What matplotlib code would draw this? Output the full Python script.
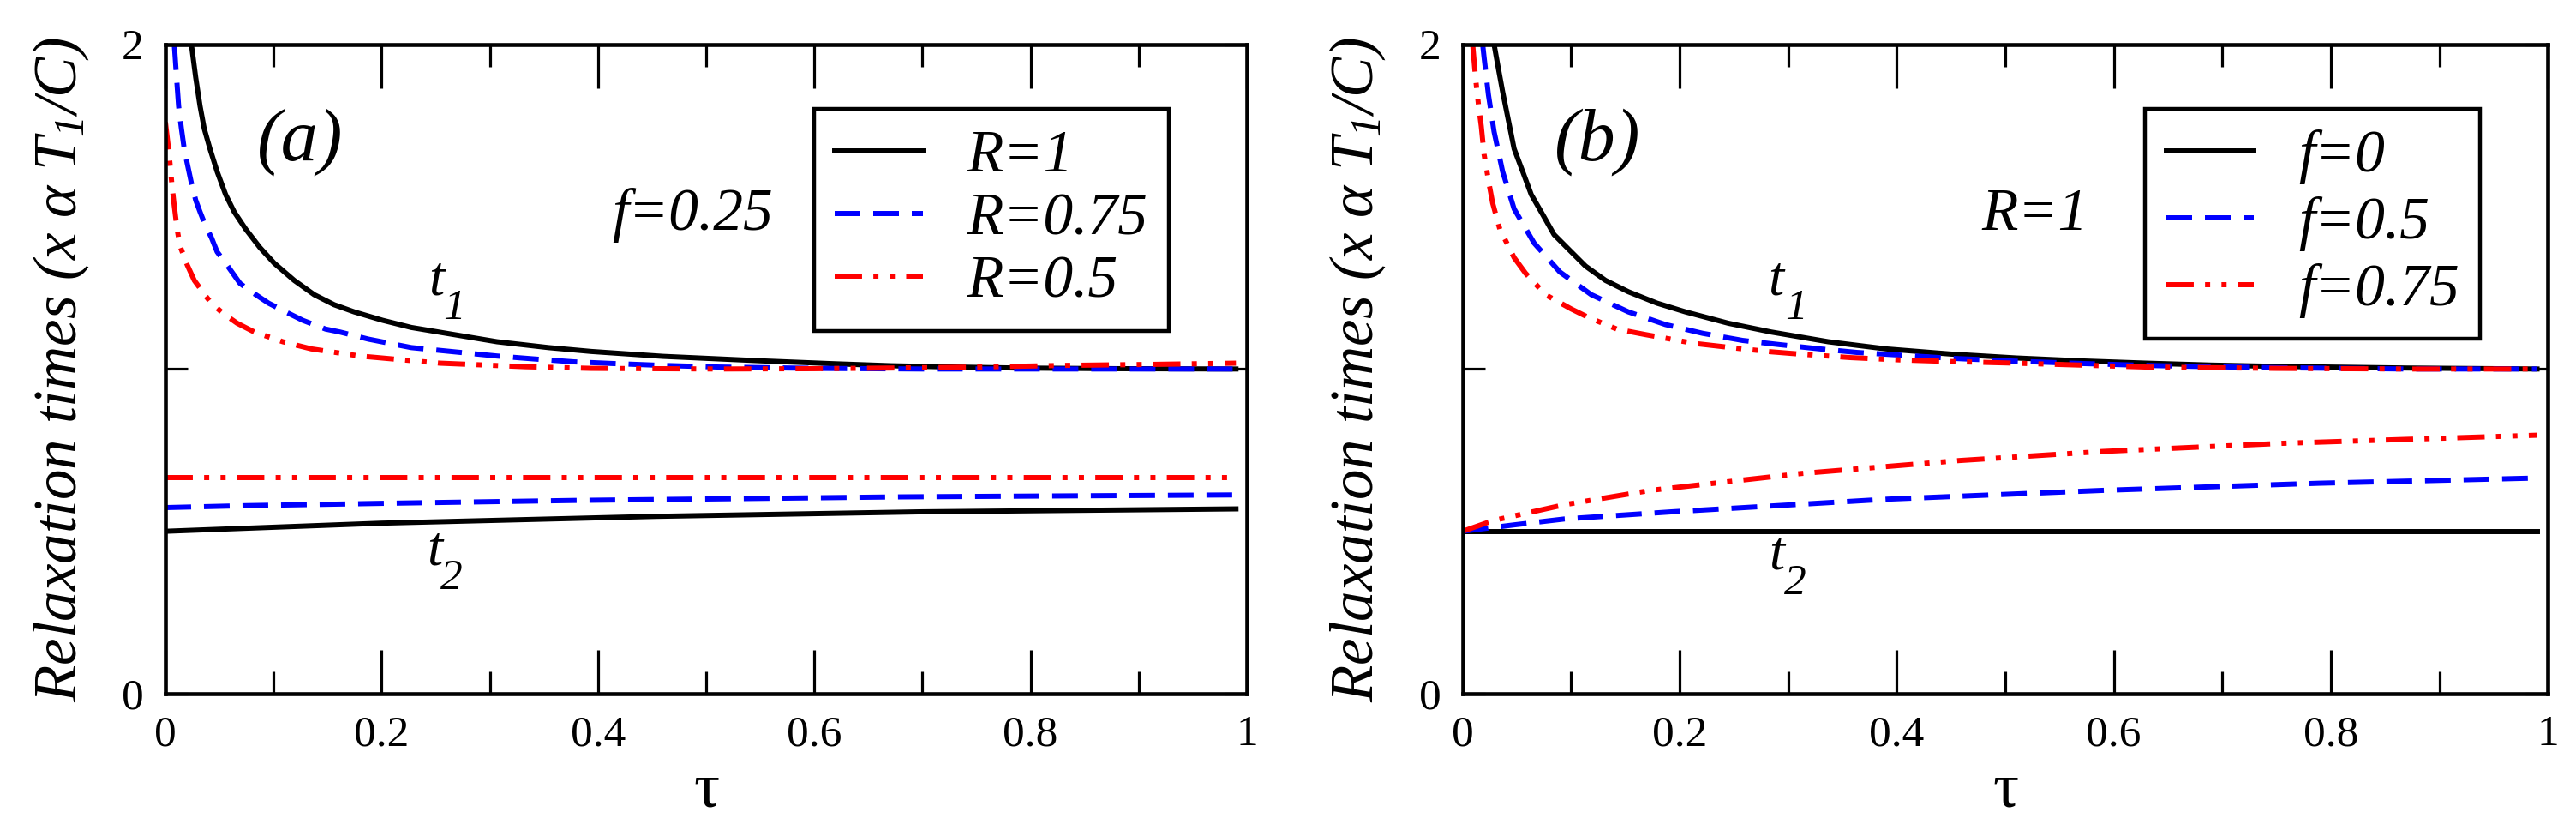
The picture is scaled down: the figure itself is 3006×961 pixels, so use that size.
import numpy as np
import matplotlib
matplotlib.use('Agg')
import matplotlib.pyplot as plt

serif = 'Liberation Serif'
plt.rcParams['font.family'] = serif
plt.rcParams['mathtext.fontset'] = 'custom'
plt.rcParams['mathtext.it'] = serif + ':italic'
plt.rcParams['mathtext.rm'] = serif + ':italic'
plt.rcParams['lines.scale_dashes'] = False

# ---- panel (a): f=0.25, different R ----
# t1 branch
tau_a1_R1 = [0.024, 0.028, 0.032, 0.0359, 0.0412, 0.0478, 0.0557, 0.0636, 0.0742, 0.0874, 0.1006, 0.1191,
             0.1376, 0.1561, 0.1746, 0.201, 0.2274, 0.267, 0.3067, 0.3542, 0.394, 0.46, 0.552, 0.62, 0.671,
             0.73, 0.789, 0.88, 0.99]
t1_a_R1 = [2.000, 1.898, 1.810, 1.740, 1.678, 1.608, 1.537, 1.484, 1.431, 1.374, 1.326, 1.273,
           1.229, 1.198, 1.176, 1.150, 1.128, 1.106, 1.084, 1.066, 1.054, 1.039, 1.025, 1.016, 1.010,
           1.006, 1.003, 1.001, 1.0]
tau_a1_R075 = [0.0082, 0.0103, 0.0122, 0.0148, 0.0174, 0.0201, 0.024, 0.028, 0.032, 0.0372, 0.0425, 0.0478,
               0.0557, 0.0689, 0.0795, 0.0953, 0.1112, 0.127, 0.1482, 0.1614, 0.1878, 0.2274, 0.267, 0.3067,
               0.341, 0.378, 0.413, 0.46, 0.512, 0.6, 0.7, 0.8, 0.99]
t1_a_R075 = [2.000, 1.898, 1.810, 1.740, 1.678, 1.634, 1.573, 1.520, 1.484, 1.440, 1.405, 1.361,
             1.326, 1.264, 1.238, 1.203, 1.176, 1.150, 1.123, 1.114, 1.092, 1.066, 1.053, 1.040,
             1.031, 1.022, 1.017, 1.011, 1.006, 1.002, 1.0, 1.0, 1.0]
tau_a1_R05 = [0.0, 0.0029, 0.0042, 0.0061, 0.0082, 0.0108, 0.0135, 0.0201, 0.0267, 0.0372, 0.0425, 0.0531,
              0.0663, 0.0822, 0.1086, 0.1349, 0.1799, 0.2538, 0.3331, 0.3938, 0.51, 0.6, 0.671, 0.75,
              0.83, 0.908, 0.99]
t1_a_R05 = [1.76, 1.678, 1.634, 1.564, 1.502, 1.431, 1.379, 1.321, 1.273, 1.225, 1.203, 1.172,
            1.141, 1.114, 1.084, 1.062, 1.040, 1.018, 1.007, 1.002, 1.0, 1.001, 1.003, 1.006,
            1.011, 1.014, 1.018]
# t2 branch
tau_a2_R1 = [0.0, 0.2, 0.454, 0.7, 0.99]
t2_a_R1 = [0.500, 0.525, 0.546, 0.560, 0.569]
tau_a2_R075 = [0.0, 0.075, 0.2, 0.378, 0.68, 0.99]
t2_a_R075 = [0.573, 0.579, 0.586, 0.595, 0.606, 0.612]
tau_a2_R05 = [0.0, 0.99]
t2_a_R05 = [0.665, 0.665]

# ---- panel (b): R=1, different f ----
tau_b1_f0 = [0.0289, 0.0329, 0.0368, 0.0421, 0.0474, 0.0553, 0.0632, 0.0737, 0.0842, 0.1, 0.1132, 0.1316,
             0.1527, 0.179, 0.2053, 0.2448, 0.2843, 0.3369, 0.39, 0.45, 0.51, 0.57, 0.63, 0.69, 0.75,
             0.87, 0.99]
t1_b_f0 = [2.0, 1.925, 1.854, 1.766, 1.678, 1.608, 1.537, 1.476, 1.414, 1.361, 1.317, 1.273,
           1.238, 1.203, 1.176, 1.141, 1.114, 1.084, 1.062, 1.046, 1.034, 1.025, 1.018, 1.012, 1.008,
           1.003, 1.0]
tau_b1_f05 = [0.0184, 0.0197, 0.0237, 0.0289, 0.0368, 0.0474, 0.0658, 0.0895, 0.1185, 0.1527, 0.1869,
              0.2211, 0.258, 0.2922, 0.329, 0.3633, 0.3974, 0.45, 0.51, 0.57, 0.63, 0.69, 0.75, 0.87, 0.99]
t1_b_f05 = [2.0, 1.96, 1.845, 1.731, 1.608, 1.493, 1.388, 1.299, 1.229, 1.176, 1.137,
            1.110, 1.088, 1.075, 1.062, 1.051, 1.044, 1.033, 1.024, 1.017, 1.011, 1.007, 1.004, 1.0, 1.0]
tau_b1_f075 = [0.0092, 0.0118, 0.0145, 0.0171, 0.0197, 0.0242, 0.0276, 0.0342, 0.0474, 0.0579, 0.0763,
               0.1, 0.1158, 0.1421, 0.1685, 0.1869, 0.2132, 0.2395, 0.258, 0.2843, 0.3106, 0.358, 0.4028,
               0.45, 0.51, 0.57, 0.63, 0.69, 0.75, 0.87, 0.99]
t1_b_f075 = [2.0, 1.898, 1.815, 1.748, 1.661, 1.572, 1.511, 1.431, 1.343, 1.295, 1.229,
             1.185, 1.159, 1.123, 1.106, 1.095, 1.079, 1.069, 1.062, 1.053, 1.046, 1.035, 1.028,
             1.023, 1.018, 1.012, 1.006, 1.004, 1.002, 1.0, 1.0]
tau_b2_f0 = [0.0, 0.99]
t2_b_f0 = [0.5, 0.5]
tau_b2_f05 = [0.0, 0.048, 0.094, 0.193, 0.392, 0.590, 0.789, 0.99]
t2_b_f05 = [0.5, 0.520, 0.538, 0.560, 0.599, 0.626, 0.648, 0.664]
tau_b2_f075 = [0.0, 0.028, 0.094, 0.173, 0.312, 0.458, 0.590, 0.755, 0.99]
t2_b_f075 = [0.5, 0.533, 0.582, 0.626, 0.678, 0.718, 0.746, 0.771, 0.796]

labels_a = ['R=1', 'R=0.75', 'R=0.5']
labels_b = ['f=0', 'f=0.5', 'f=0.75']

lw = 4.3
solid = dict(color='black', lw=lw, linestyle='-')
dash = dict(color='blue', lw=lw, linestyle=(0, (21.6, 10.8)))
dashdot = dict(color='red', lw=lw, linestyle=(0, (23, 9.5, 4.3, 9.5, 4.3, 9.5)))
ital = dict(style='italic', family=serif)

fig = plt.figure(figsize=(30.06, 9.61), dpi=100)
ax1 = fig.add_axes([0.0642, 0.1582, 0.4198, 0.788])
ax2 = fig.add_axes([0.5678, 0.1582, 0.4213, 0.788])

# panel a
l1, = ax1.plot(tau_a1_R1, t1_a_R1, label=labels_a[0], **solid)
l2, = ax1.plot(tau_a1_R075, t1_a_R075, label=labels_a[1], **dash)
l3, = ax1.plot(tau_a1_R05, t1_a_R05, label=labels_a[2], **dashdot)
ax1.plot(tau_a2_R1, t2_a_R1, **solid)
ax1.plot(tau_a2_R075, t2_a_R075, **dash)
ax1.plot(tau_a2_R05, t2_a_R05, **dashdot)

# panel b
m1, = ax2.plot(tau_b1_f0, t1_b_f0, label=labels_b[0], **solid)
m2, = ax2.plot(tau_b1_f05, t1_b_f05, label=labels_b[1], **dash)
m3, = ax2.plot(tau_b1_f075, t1_b_f075, label=labels_b[2], **dashdot)
ax2.plot(tau_b2_f0, t2_b_f0, **solid)
ax2.plot(tau_b2_f05, t2_b_f05, **dash)
ax2.plot(tau_b2_f075, t2_b_f075, **dashdot)

for ax in (ax1, ax2):
    ax.set_xlim(0, 1)
    ax.set_ylim(0, 2)
    ax.set_xticks([0, 0.2, 0.4, 0.6, 0.8, 1])
    ax.set_xticklabels(['0', '0.2', '0.4', '0.6', '0.8', '1'], family=serif)
    ax.set_xticks([0.1, 0.3, 0.5, 0.7, 0.9], minor=True)
    ax.set_yticks([0, 1, 2])
    ax.set_yticklabels(['0', '', '2'], family=serif)
    ax.tick_params(axis='x', which='major', direction='in', length=37, width=2.3,
                   top=True, bottom=True, labelsize=37, pad=18)
    ax.tick_params(axis='x', which='minor', direction='in', length=18.7, width=2.3,
                   top=True, bottom=True)
    ax.tick_params(axis='y', which='major', direction='in', length=18.7, width=2.3,
                   left=True, right=True, labelsize=37, pad=18)
    for sp in ax.spines.values():
        sp.set_linewidth(3.3)
    ax.set_ylabel(r'Relaxation times (x $\alpha$ $T_1$/C)', fontsize=51, **ital)
    ax.yaxis.set_label_coords(-0.069, 0.5)
    ax.set_xlabel('τ', fontsize=54, family=serif)
    ax.xaxis.set_label_coords(0.5, -0.106)

ax1.text(0.085, 1.70, '(a)', fontsize=62, va='center', ha='left', **ital)
ax2.text(0.085, 1.70, '(b)', fontsize=62, va='center', ha='left', **ital)
ax1.text(0.413, 1.43, 'f=0.25', fontsize=50, va='baseline', **ital)
ax2.text(0.478, 1.428, 'R=1', fontsize=50, va='baseline', **ital)

# branch labels t1 / t2
ax1.text(0.243, 1.23, 't', fontsize=47, va='baseline', **ital)
ax1.text(0.257, 1.153, '1', fontsize=37, va='baseline', **ital)
ax1.text(0.242, 0.398, 't', fontsize=47, va='baseline', **ital)
ax1.text(0.254, 0.321, '2', fontsize=37, va='baseline', **ital)
ax2.text(0.281, 1.23, 't', fontsize=47, va='baseline', **ital)
ax2.text(0.297, 1.153, '1', fontsize=37, va='baseline', **ital)
ax2.text(0.282, 0.384, 't', fontsize=47, va='baseline', **ital)
ax2.text(0.296, 0.305, '2', fontsize=37, va='baseline', **ital)

leg_font = dict(family=serif, style='italic', size=50)
lg1 = ax1.legend(handles=[l1, l2, l3], loc='upper left', bbox_to_anchor=(0.600, 0.9006),
                 borderaxespad=0, prop=leg_font, handlelength=1.47, handletextpad=0.75,
                 labelspacing=0.14, borderpad=0.35, fancybox=False, framealpha=1,
                 edgecolor='black')
lg1.get_frame().set_linewidth(3.2)
lg2 = ax2.legend(handles=[m1, m2, m3], loc='upper left', bbox_to_anchor=(0.629, 0.9006),
                 borderaxespad=0, prop=leg_font, handlelength=1.47, handletextpad=0.75,
                 labelspacing=0.2, borderpad=0.35, fancybox=False, framealpha=1,
                 edgecolor='black')
lg2.get_frame().set_linewidth(3.2)

fig.savefig('out.png', dpi=100)
